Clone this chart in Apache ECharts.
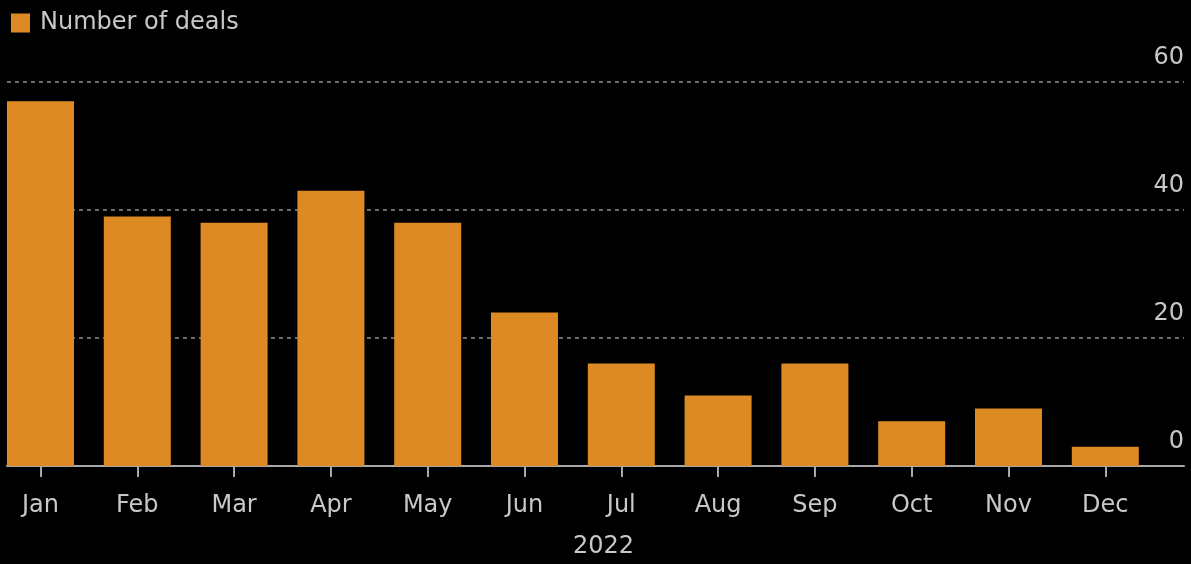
<!DOCTYPE html>
<html>
<head>
<meta charset="utf-8">
<script src="https://cdn.jsdelivr.net/npm/echarts@6/dist/echarts.min.js"></script>
<style>
  html, body { margin: 0; padding: 0; background: #000; }
  #chart { width: 1191px; height: 564px; }
</style>
</head>
<body>
<div id="chart"></div>
<script>
// Monthly deal counts, 2022
const months = ['Jan', 'Feb', 'Mar', 'Apr', 'May', 'Jun', 'Jul', 'Aug', 'Sep', 'Oct', 'Nov', 'Dec'];
const deals = [57, 39, 38, 43, 38, 24, 16, 11, 16, 7, 9, 3];
const seriesName = 'Number of deals';
const yearLabel = '2022';
const yTicks = { min: 0, max: 60, interval: 20 };

const textColor = '#c8c8c8';
const barColor = '#de8a24';
const fontFamily = '"DejaVu Sans", Verdana, sans-serif';
const fontSize = 24;

// month index on a continuous axis so the bars can sit left of the plot centre,
// leaving room for the value labels on the right
const monthIndex = months.map((m, i) => i);
const barData = monthIndex.map(i => [i, deals[i]]);

const chart = echarts.init(document.getElementById('chart'), null, { renderer: 'canvas' });

chart.setOption({
  backgroundColor: '#000',
  animation: false,
  textStyle: { fontFamily: fontFamily },
  legend: {
    data: [seriesName],
    left: 11,
    top: 11,
    padding: 0,
    icon: 'rect',
    itemWidth: 19,
    itemHeight: 19,
    textStyle: { color: textColor, fontSize: fontSize, fontFamily: fontFamily, padding: [0, 0, 0, 5] }
  },
  graphic: [{
    type: 'text',
    left: 573,
    top: 535,
    style: { text: yearLabel, fill: textColor, fontSize: fontSize, fontFamily: fontFamily }
  }],
  grid: { left: 7, right: 7, top: 82, bottom: 98 },
  xAxis: {
    type: 'value',
    min: -0.346,
    max: 11.813,
    axisLine: { show: true, onZero: false, lineStyle: { color: '#a8a8a8', width: 2 } },
    axisTick: {
      show: true,
      customValues: monthIndex,
      length: 11,
      lineStyle: { color: '#a8a8a8', width: 2 }
    },
    axisLabel: {
      customValues: monthIndex,
      formatter: v => months[Math.round(v)],
      color: textColor,
      fontSize: fontSize,
      fontFamily: fontFamily,
      margin: 28
    },
    splitLine: { show: false }
  },
  yAxis: {
    type: 'value',
    position: 'right',
    min: yTicks.min,
    max: yTicks.max,
    interval: yTicks.interval,
    axisLine: { show: false },
    axisTick: { show: false },
    axisLabel: {
      inside: true,
      margin: 0,
      color: textColor,
      fontSize: fontSize,
      fontFamily: fontFamily,
      verticalAlign: 'bottom',
      padding: [0, 0, 12, 0]
    },
    splitLine: { show: true, lineStyle: { color: '#6a6a6a', type: [4, 4], width: 2 } }
  },
  series: [{
    name: seriesName,
    type: 'bar',
    data: barData,
    barWidth: 67,
    itemStyle: { color: barColor },
    z: 3
  }]
});
</script>
</body>
</html>
